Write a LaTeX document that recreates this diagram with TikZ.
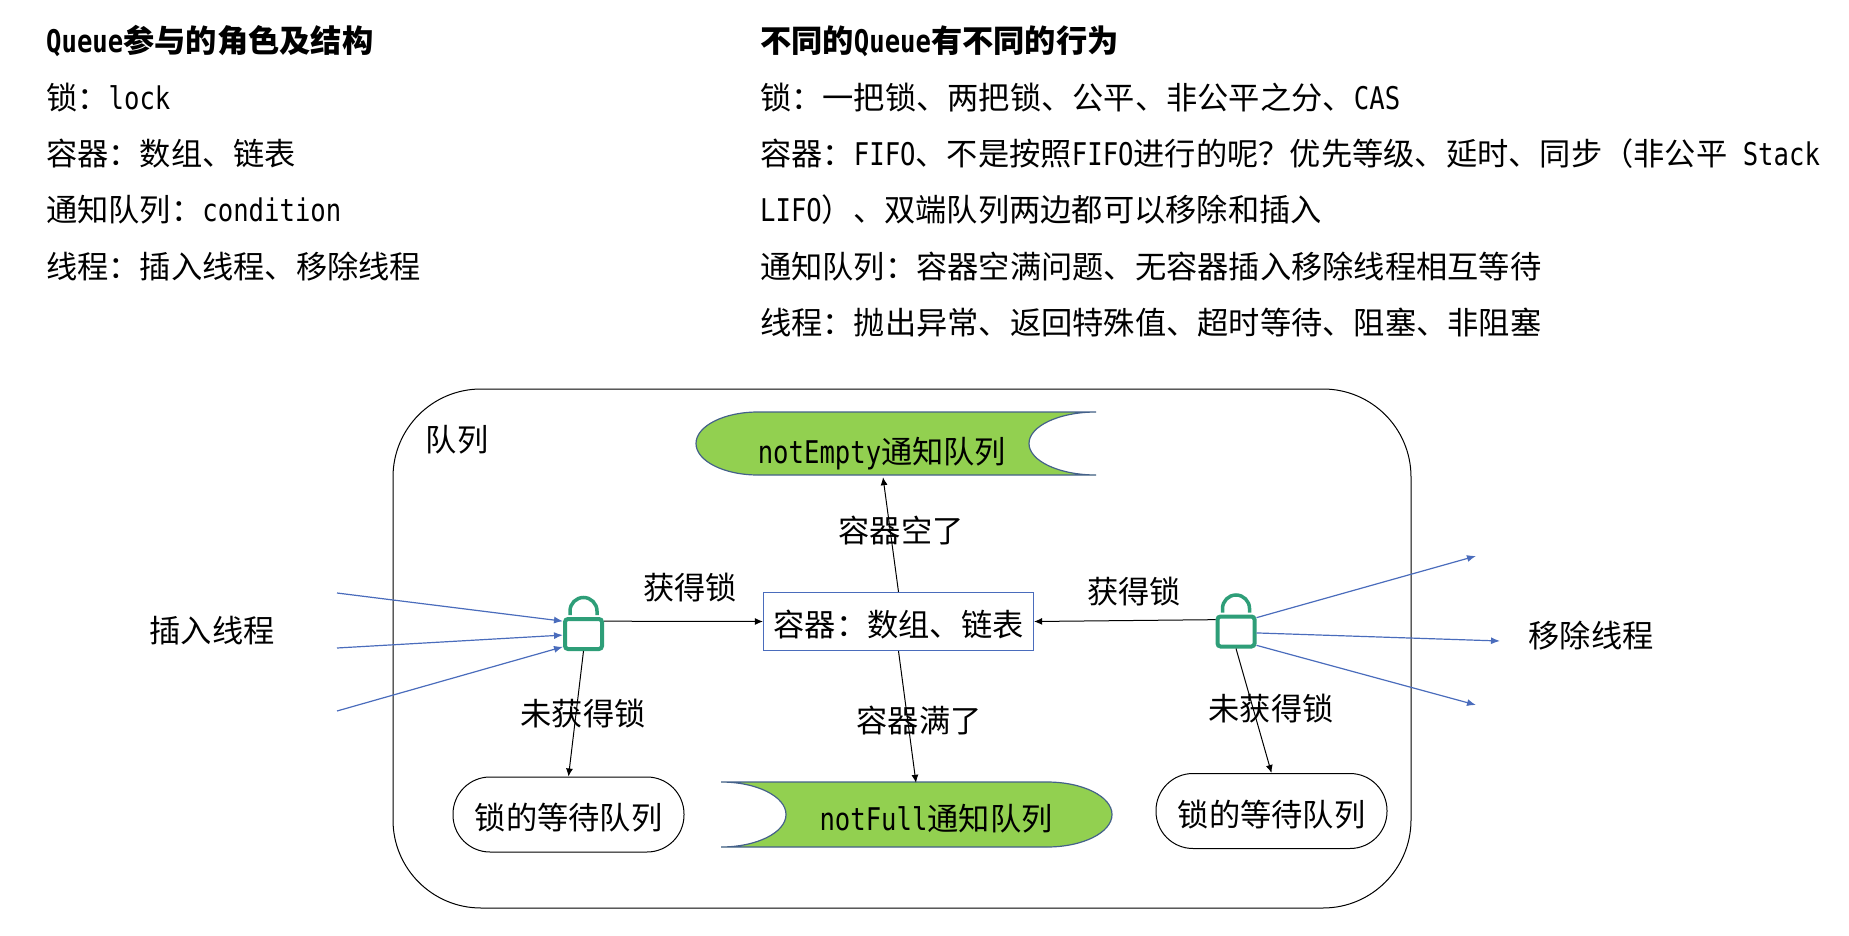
\documentclass[tikz,border=0pt]{standalone}
\usepackage{fontspec}
\usetikzlibrary{arrows.meta,positioning}
\setmainfont{Noto Sans CJK SC}
\newfontfamily\latinmono[FakeStretch=0.82]{DejaVu Sans Mono}
\newcommand{\lat}[1]{{\latinmono #1}}
\definecolor{qblue}{HTML}{4A6CBC}
\definecolor{qgreen}{HTML}{92D050}
\definecolor{qlock}{HTML}{2E9E78}
\definecolor{qedge}{HTML}{44618A}
\begin{document}
\begin{tikzpicture}[x=1pt,y=-1pt,every node/.style={font=\fontsize{31.25}{36}\selectfont,align=center,inner sep=0pt},txt/.style={anchor=west},head/.style={anchor=west,font=\fontsize{31.25}{36}\selectfont\bfseries},store/.style={draw=qedge,fill=qgreen,line width=1.2pt},wait/.style={draw=black,rounded corners=37pt,minimum width=231pt,minimum height=75pt,line width=1pt,text height=30pt,text depth=0pt},lock/.style={draw=qlock,fill=white,rounded corners=3pt,line width=4pt,minimum width=37pt,minimum height=30pt},arr/.style={-{Latex[length=8pt,width=7pt]},black,line width=1pt},barr/.style={-{Latex[length=9pt,width=7pt]},qblue,line width=1.2pt}]
\useasboundingbox (0,0) rectangle (1849,936);
% left list
\node[head] (lt) at (46,41) {\lat{Queue}参与的角色及结构};
\node[txt] (l1) at (46,98) {锁：\lat{lock}};
\node[txt] (l2) at (46,154) {容器：数组、链表};
\node[txt] (l3) at (46,210) {通知队列：\lat{condition}};
\node[txt] (l4) at (46,267) {线程：插入线程、移除线程};
% right list
\node[head] (rt) at (760,41) {不同的\lat{Queue}有不同的行为};
\node[txt] (r1) at (760,98) {锁：一把锁、两把锁、公平、非公平之分、\lat{CAS}};
\node[txt] (r2) at (760,154) {容器：\lat{FIFO}、不是按照\lat{FIFO}进行的呢？优先等级、延时、同步（非公平\lat{ Stack}};
\node[txt] (r3) at (760,210) {\lat{LIFO}）、双端队列两边都可以移除和插入};
\node[txt] (r4) at (760,267) {通知队列：容器空满问题、无容器插入移除线程相互等待};
\node[txt] (r5) at (760,323) {线程：抛出异常、返回特殊值、超时等待、阻塞、非阻塞};
% queue frame
\node[draw=black,line width=1pt,rounded corners=88pt,minimum width=1018pt,minimum height=519pt] (queue) at (902,648.5) {};
\node (qname) at (457,440) {队列};
% stored shapes
\draw[store] (1096,412) -- (758,412) arc[start angle=90,end angle=270,x radius=62pt,y radius=31.5pt] -- (1096,475) arc[start angle=270,end angle=90,x radius=67pt,y radius=31.5pt];
\draw[store] (721,782) -- (1047,782) arc[start angle=90,end angle=-90,x radius=65pt,y radius=32.5pt] -- (721,847) arc[start angle=-90,end angle=90,x radius=65pt,y radius=32.5pt];
\node[minimum height=46pt] (empty) at (882,454) {\lat{notEmpty}通知队列};
\node[minimum height=72pt] (full) at (936,819) {\lat{notFull}通知队列};
% middle row
\node[draw=qblue,fill=white,line width=1.2pt,minimum width=270pt,minimum height=58pt,text height=30pt,text depth=0pt] (box) at (898.5,621.5) {容器：数组、链表};
\node[lock] (lockl) at (583.5,634) {};
\node[lock] (lockr) at (1236,631.5) {};
\foreach \k in {lockl,lockr}
  \draw[qlock,line width=3.5pt] ([xshift=-13.5pt,yshift=2pt]\k.north) -- ++(0,-4) arc[start angle=180,end angle=0,radius=13.5pt] -- ++(0,4);
\node[wait] (waitl) at (568.5,814.5) {锁的等待队列};
\node[wait] (waitr) at (1271.5,811) {锁的等待队列};
% free ends
\coordinate (in1) at (337,593);
\coordinate (in2) at (337,648);
\coordinate (in3) at (337,711);
\coordinate (out1) at (1476,556);
\coordinate (out2) at (1500,641);
\coordinate (out3) at (1476,705);
\draw[barr] (in1) -- (lockl.148);
\draw[barr] (in2) -- (lockl.183);
\draw[barr] (in3) -- (lockl.212);
\draw[barr] (lockr.34) -- (out1);
\draw[barr] (lockr.356) -- (out2);
\draw[barr] (lockr.326) -- (out3);
\draw[arr] (lockl.32) -- (box.west);
\draw[arr] (lockr.150) -- (box.east);
\draw[arr] (lockl.south) -- (waitl.north);
\draw[arr] (lockr.south) -- (waitr.north);
\draw[arr] (box.north) -- ([xshift=1pt]empty.south);
\draw[arr] (box.south) -- ([xshift=-20pt]full.north);
% labels
\node (ins) at (212,631) {插入线程};
\node (del) at (1591,636) {移除线程};
\node (gotl) at (690,588) {获得锁};
\node (gotr) at (1134,592) {获得锁};
\node (missl) at (583,714) {未获得锁};
\node (missr) at (1271,709) {未获得锁};
\node (isempty) at (901,531) {容器空了};
\node (isfull) at (919,721) {容器满了};
\end{tikzpicture}
\end{document}
